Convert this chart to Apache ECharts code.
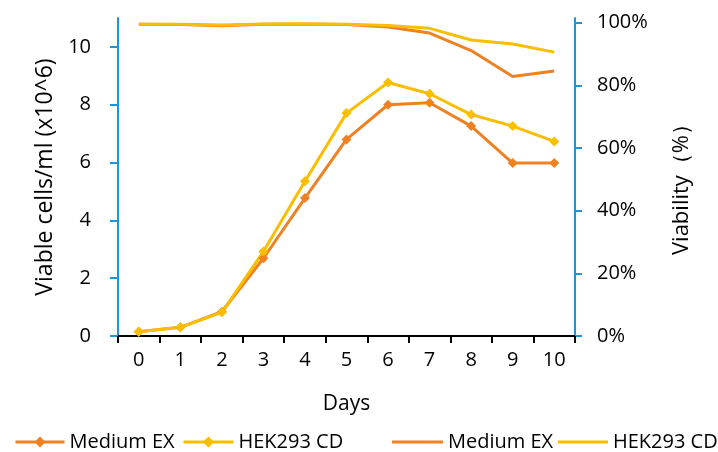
<!DOCTYPE html>
<html>
<head>
<meta charset="utf-8">
<script src="https://cdn.jsdelivr.net/npm/echarts@6/dist/echarts.min.js"></script>
<style>html,body{margin:0;padding:0;background:#fff}#c{width:718px;height:452px}</style>
</head>
<body>
<div id="c"></div>
<script>
var days = ['0','1','2','3','4','5','6','7','8','9','10'];
var mediumCells = [0.15, 0.30, 0.84, 2.69, 4.77, 6.80, 8.00, 8.07, 7.26, 5.98, 5.98];
var hekCells = [0.15, 0.30, 0.82, 2.92, 5.35, 7.71, 8.77, 8.38, 7.66, 7.26, 6.73];
var mediumViab = [0.995, 0.994, 0.990, 0.995, 0.996, 0.994, 0.986, 0.967, 0.911, 0.828, 0.846];
var hekViab = [0.995, 0.995, 0.993, 0.996, 0.996, 0.995, 0.991, 0.982, 0.945, 0.932, 0.906];
var leftTicks = [0, 2, 4, 6, 8, 10];
var rightTicks = [0, 0.2, 0.4, 0.6, 0.8, 1.0];

var ORANGE = '#EE8222';
var YELLOW = '#FABE00';
var BLUE = '#1A96DC';
var FONT = 'Open Sans';

function leg(left, name, width, icon, h) {
  var item = {name: name};
  if (icon) item.icon = icon;
  return {
    left: left, top: 432, padding: 0, itemWidth: width, itemHeight: h, itemGap: 0,
    lineStyle: {width: 3},
    textStyle: {fontFamily: FONT, fontSize: 20, color: '#000'},
    data: [item]
  };
}

var chart = echarts.init(document.getElementById('c'));
chart.setOption({
  animation: false,
  textStyle: {fontFamily: FONT, color: '#000'},
  grid: {left: 118, right: 143, top: 18, bottom: 116, containLabel: false},
  legend: [
    leg(14, 'Medium EX', 49, null, 14),
    leg(182, 'HEK293 CD', 50, null, 14),
    leg(392, 'Medium EX ', 51, 'rect', 3),
    leg(558, 'HEK293 CD ', 50, 'rect', 3)
  ],
  xAxis: {
    type: 'category', data: days, boundaryGap: true,
    name: 'Days', nameLocation: 'middle', nameGap: 58,
    nameTextStyle: {fontFamily: FONT, fontSize: 21, color: '#000'},
    axisLine: {lineStyle: {color: '#000', width: 2}},
    axisTick: {show: true, alignWithLabel: false, length: 7, lineStyle: {color: '#000', width: 2}},
    axisLabel: {fontFamily: FONT, fontSize: 20, color: '#000', margin: 14}
  },
  yAxis: [{
    type: 'value', min: 0, max: 11, interval: 2, position: 'left',
    name: 'Viable cells/ml (x10^6)', nameLocation: 'middle', nameGap: 60, nameRotate: 90,
    nameTextStyle: {fontFamily: FONT, fontSize: 23, color: '#000'},
    axisLine: {show: true, lineStyle: {color: BLUE, width: 2}},
    axisTick: {show: true, length: 8, customValues: leftTicks, lineStyle: {color: BLUE, width: 2}},
    axisLabel: {fontFamily: FONT, fontSize: 20, color: '#000', margin: 27, customValues: leftTicks},
    splitLine: {show: false}
  }, {
    type: 'value', min: 0, max: 1.015, interval: 0.2, position: 'right',
    name: 'Viability（%）', nameLocation: 'middle', nameGap: 96, nameRotate: 90,
    nameTextStyle: {fontFamily: FONT, fontSize: 22, color: '#000', padding: [0, 14, 0, 0]},
    axisLine: {show: true, lineStyle: {color: BLUE, width: 2}},
    axisTick: {show: true, length: 7, customValues: rightTicks, lineStyle: {color: BLUE, width: 2}},
    axisLabel: {fontFamily: FONT, fontSize: 20, color: '#000', margin: 22, customValues: rightTicks,
      formatter: function (v) { return Math.round(v * 100) + '%'; }},
    splitLine: {show: false}
  }],
  series: [{
    name: 'Medium EX', type: 'line', yAxisIndex: 0, data: mediumCells,
    symbol: 'diamond', symbolSize: 10,
    lineStyle: {color: ORANGE, width: 3}, itemStyle: {color: ORANGE}
  }, {
    name: 'HEK293 CD', type: 'line', yAxisIndex: 0, data: hekCells,
    symbol: 'diamond', symbolSize: 10,
    lineStyle: {color: YELLOW, width: 3}, itemStyle: {color: YELLOW}
  }, {
    name: 'Medium EX ', type: 'line', yAxisIndex: 1, data: mediumViab,
    symbol: 'none', showSymbol: false,
    lineStyle: {color: ORANGE, width: 3}, itemStyle: {color: ORANGE}
  }, {
    name: 'HEK293 CD ', type: 'line', yAxisIndex: 1, data: hekViab,
    symbol: 'none', showSymbol: false,
    lineStyle: {color: YELLOW, width: 3}, itemStyle: {color: YELLOW}
  }]
});
</script>
</body>
</html>
